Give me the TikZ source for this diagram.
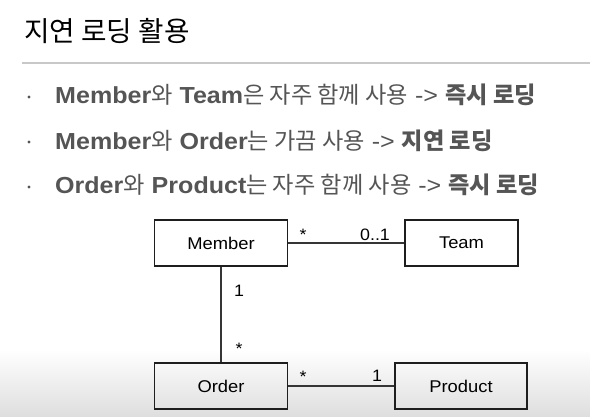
\documentclass[tikz,border=0pt]{standalone}
\usepackage{fontspec}
\setmainfont{Liberation Sans}[FakeStretch=1.08]
\newfontfamily\kr{Noto Sans CJK KR}
\definecolor{txtgray}{HTML}{555555}
\definecolor{rulegray}{HTML}{C8C8C8}
\definecolor{boxline}{HTML}{1E1E1E}
\definecolor{shadegray}{HTML}{DEDEDE}
\newcommand{\K}[1]{{\kr #1}}
\newcommand{\KB}[1]{{\kr\bfseries #1}}
\begin{document}
\begin{tikzpicture}[x=1pt,y=-1pt,
  bullettext/.style={anchor=base west, inner sep=0pt, text=txtgray, font=\fontsize{23.2}{27}\selectfont},
  umlbox/.style={draw=boxline, line width=1.6pt, minimum height=46pt, inner sep=0pt, font=\fontsize{17}{20}\selectfont},
  conn/.style={draw=boxline!90, line width=1.6pt},
  mult/.style={anchor=base, inner sep=0pt, font=\fontsize{16.5}{19}\selectfont}]
\useasboundingbox (0,0) rectangle (590,416);
\shade[top color=white, bottom color=shadegray] (0,350) rectangle (590,416);
% title
\node[anchor=base west, inner sep=0pt, font=\kr\fontsize{27.7}{32}\selectfont] (title) at (24,41) {지연 로딩 활용};
\draw[rulegray, line width=1.6pt] (22,63) coordinate (r1) -- (590,63) coordinate (r2);
% bullets
\fill[txtgray] (29,97) circle (1.6pt);
\fill[txtgray] (29,142) circle (1.6pt);
\fill[txtgray] (29,187) circle (1.6pt);
\node[bullettext] (l1) at (55,103) {\textbf{Member}\K{와} \textbf{Team}\K{은 자주 함께 사용} -> \KB{즉시 로딩}};
\node[bullettext] (l2) at (55,149) {\textbf{Member}\K{와} \textbf{Order}\K{는 가끔 사용} -> \KB{지연 로딩}};
\node[bullettext] (l3) at (55,193) {\textbf{Order}\K{와} \textbf{Product}\K{는 자주 함께 사용} -> \KB{즉시 로딩}};
% diagram
\node[umlbox, minimum width=133pt] (member) at (221,243) {Member};
\node[umlbox, minimum width=113pt] (team) at (461.5,243) {Team};
\node[umlbox, minimum width=133pt] (order) at (221,386) {Order};
\node[umlbox, minimum width=132pt] (product) at (461,386) {Product};
\draw[conn] (member) -- (team);
\draw[conn] (member) -- (order);
\draw[conn] (order) -- (product);
\node[mult] (m1) at (303,240) {*};
\node[mult] (m2) at (375,240) {0..1};
\node[mult] (m3) at (239,296) {1};
\node[mult] (m4) at (239,354) {*};
\node[mult] (m5) at (303,382) {*};
\node[mult] (m6) at (377,381) {1};
\end{tikzpicture}
\end{document}
